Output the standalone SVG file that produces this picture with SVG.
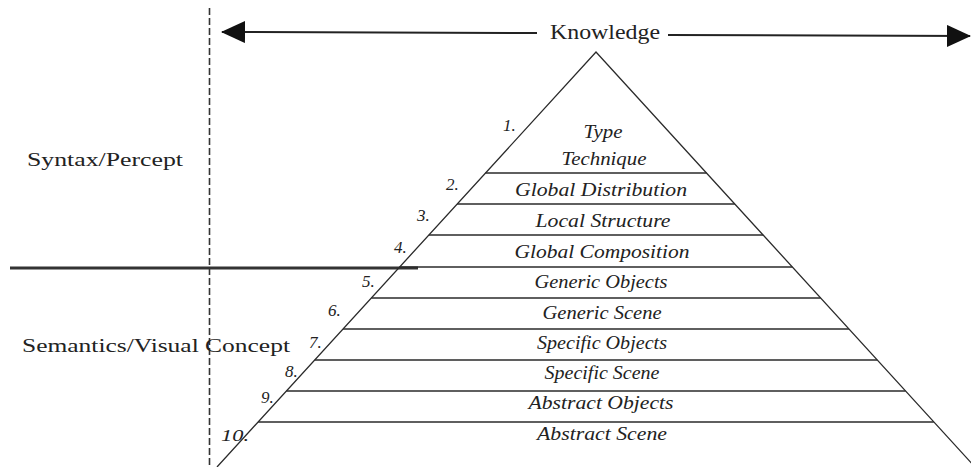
<svg xmlns="http://www.w3.org/2000/svg" width="971" height="467" viewBox="0 0 971 467">
<style>
.bg{fill:#ffffff}
.edge{stroke:#2a2a2a;stroke-width:1.3;fill:none}
.layer{stroke:#2a2a2a;stroke-width:1.3;fill:none}
.lbl{font-family:"Liberation Serif","DejaVu Serif",serif;font-style:italic;font-size:18px;fill:#222;text-anchor:middle}
.num{font-family:"Liberation Serif","DejaVu Serif",serif;font-style:italic;font-size:17px;fill:#222}
.side{font-family:"Liberation Serif","DejaVu Serif",serif;font-size:19px;fill:#222}
.arrow{stroke:#222;stroke-width:2;fill:none}
</style>
<defs>
<marker id="ah" viewBox="0 0 24 22" refX="23" refY="11" markerWidth="24" markerHeight="22" markerUnits="userSpaceOnUse" orient="auto-start-reverse">
<path d="M0,0 L24,11 L0,22 Z" fill="#111"/>
</marker>
</defs>
<rect class="bg" x="0" y="0" width="971" height="467"/>

<g id="divider-vertical">
<line x1="209.5" y1="8" x2="209.5" y2="467" stroke="#333" stroke-width="1.6" stroke-dasharray="7,3"/>
</g>

<g id="connectors">
<line class="arrow" x1="537" y1="33" x2="222" y2="32" marker-end="url(#ah)"/>
<line class="arrow" x1="668" y1="35" x2="970" y2="36" marker-end="url(#ah)"/>
</g>

<g id="knowledge">
<text x="550" y="39" font-family="Liberation Serif, DejaVu Serif, serif" font-size="20" fill="#222" textLength="110" lengthAdjust="spacingAndGlyphs">Knowledge</text>
</g>

<g id="syntax-percept">
<text class="side" x="27" y="166" textLength="156" lengthAdjust="spacingAndGlyphs">Syntax/Percept</text>
</g>
<g id="semantics-visual-concept">
<text class="side" x="22" y="352" textLength="268" lengthAdjust="spacingAndGlyphs">Semantics/Visual Concept</text>
</g>

<g id="divider-horizontal">
<line x1="10" y1="268" x2="418" y2="268" stroke="#333" stroke-width="3"/>
</g>

<g id="pyramid">
<path class="edge" d="M217,467 L596,52 L975,467"/>
</g>

<g id="layer-1">
<text class="num" x="503" y="131">1.</text>
<text class="lbl" x="603" y="138" textLength="39" lengthAdjust="spacingAndGlyphs">Type</text>
<text class="lbl" x="604" y="165" textLength="85" lengthAdjust="spacingAndGlyphs">Technique</text>
<line class="layer" x1="485.5" y1="173" x2="706.5" y2="173"/>
</g>
<g id="layer-2">
<text class="num" x="446" y="190">2.</text>
<text class="lbl" x="601" y="196" textLength="172" lengthAdjust="spacingAndGlyphs">Global Distribution</text>
<line class="layer" x1="457.2" y1="204" x2="734.8" y2="204"/>
</g>
<g id="layer-3">
<text class="num" x="417" y="221">3.</text>
<text class="lbl" x="603" y="227" textLength="135" lengthAdjust="spacingAndGlyphs">Local Structure</text>
<line class="layer" x1="428.9" y1="235" x2="763.1" y2="235"/>
</g>
<g id="layer-4">
<text class="num" x="394" y="253">4.</text>
<text class="lbl" x="602" y="258" textLength="175" lengthAdjust="spacingAndGlyphs">Global Composition</text>
<line class="layer" x1="399.7" y1="267" x2="792.3" y2="267" stroke="#555" stroke-width="2"/>
</g>
<g id="layer-5">
<text class="num" x="362" y="287">5.</text>
<text class="lbl" x="601" y="288" textLength="133" lengthAdjust="spacingAndGlyphs">Generic Objects</text>
<line class="layer" x1="371.4" y1="298" x2="820.6" y2="298"/>
</g>
<g id="layer-6">
<text class="num" x="328" y="316">6.</text>
<text class="lbl" x="602" y="319" textLength="119" lengthAdjust="spacingAndGlyphs">Generic Scene</text>
<line class="layer" x1="343.1" y1="329" x2="848.9" y2="329"/>
</g>
<g id="layer-7">
<text class="num" x="309" y="348">7.</text>
<text class="lbl" x="602" y="349" textLength="130" lengthAdjust="spacingAndGlyphs">Specific Objects</text>
<line class="layer" x1="314.8" y1="360" x2="877.2" y2="360"/>
</g>
<g id="layer-8">
<text class="num" x="285" y="377">8.</text>
<text class="lbl" x="602" y="379" textLength="115" lengthAdjust="spacingAndGlyphs">Specific Scene</text>
<line class="layer" x1="286.5" y1="391" x2="905.5" y2="391"/>
</g>
<g id="layer-9">
<text class="num" x="261" y="403">9.</text>
<text class="lbl" x="601" y="409" textLength="145" lengthAdjust="spacingAndGlyphs">Abstract Objects</text>
<line class="layer" x1="258.2" y1="422" x2="933.8" y2="422"/>
</g>
<g id="layer-10">
<text class="num" x="221" y="441" textLength="28" lengthAdjust="spacingAndGlyphs">10.</text>
<text class="lbl" x="602" y="440" textLength="130" lengthAdjust="spacingAndGlyphs">Abstract Scene</text>
</g>
</svg>
